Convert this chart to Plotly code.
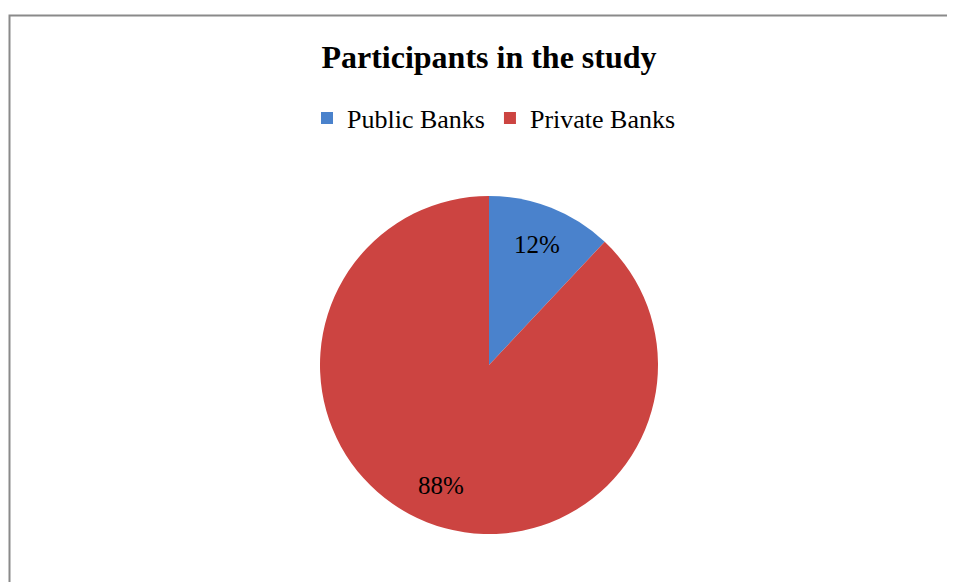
import math
import plotly.graph_objects as go

labels = ["Public Banks", "Private Banks"]
values = [12, 88]
colors = ["#4A82CC", "#CC4441"]

W, H = 955, 582
OFF = 8  # page body margin
cx, cy, r = 489 - OFF, 365 - OFF, 169

fig = go.Figure(go.Pie(
    labels=labels,
    values=values,
    marker=dict(colors=colors, line=dict(color="rgba(0,0,0,0)", width=0)),
    sort=False,
    direction="clockwise",
    rotation=0,
    textinfo="none",
    domain=dict(x=[(cx - r) / W, (cx + r) / W], y=[(H - cy - r) / H, (H - cy + r) / H]),
    showlegend=True,
))

# percentage labels along each slice bisector
total = sum(values)
cum = 0
annotations = []
for v in values:
    mid = (cum + v / 2) / total * 2 * math.pi
    cum += v
    px = cx + 0.77 * r * math.sin(mid)
    py = cy - 0.77 * r * math.cos(mid)
    annotations.append(dict(text=f"{round(100 * v / total)}%", xref="paper", yref="paper",
                            x=px / W, y=(H - py) / H, showarrow=False,
                            xanchor="center", yanchor="middle",
                            font=dict(family="Liberation Serif", size=25, color="black")))

fig.update_layout(
    width=W, height=H,
    margin=dict(l=0, r=0, t=0, b=0),
    paper_bgcolor="white",
    plot_bgcolor="white",
    font=dict(family="Liberation Serif", color="black"),
    title=dict(text="<b>Participants in the study</b>", x=cx / W, xanchor="center",
               y=(H - (57 - OFF)) / H, yanchor="middle",
               font=dict(family="Liberation Serif", size=32, color="black")),
    legend=dict(orientation="h", x=(494 - OFF) / W, xanchor="center", y=(H - (118 - OFF)) / H,
                yanchor="middle",
                font=dict(family="Liberation Serif", size=26, color="black"),
                itemwidth=30, tracegroupgap=0),
    annotations=annotations,
    shapes=[dict(type="rect", xref="paper", yref="paper",
                 x0=(9.5 - OFF) / W, x1=1.05, y0=-0.05, y1=(H - (15.5 - OFF)) / H,
                 line=dict(color="#8A8A8A", width=2), fillcolor="rgba(0,0,0,0)")],
)

fig.write_html("out.html")
